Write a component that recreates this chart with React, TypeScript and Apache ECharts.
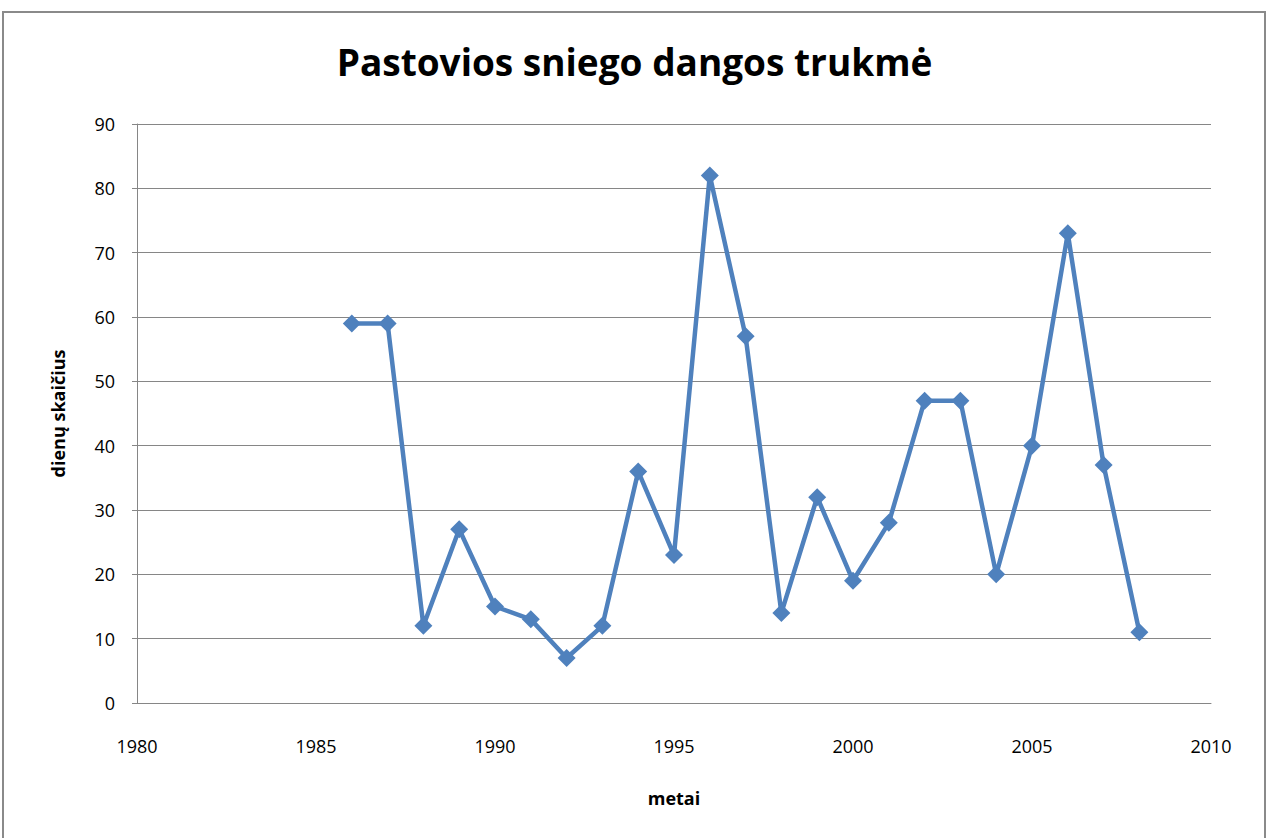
import React, { useEffect, useRef } from "react";
import * as echarts from "echarts";

const years = [1986, 1987, 1988, 1989, 1990, 1991, 1992, 1993, 1994, 1995, 1996, 1997, 1998, 1999, 2000, 2001, 2002, 2003, 2004, 2005, 2006, 2007, 2008];
const days = [59, 59, 12, 27, 15, 13, 7, 12, 36, 23, 82, 57, 14, 32, 19, 28, 47, 47, 20, 40, 73, 37, 11];
const titleText = "Pastovios sniego dangos trukmė";
const xName = "metai";
const yName = "dienų skaičius";

export default function App() {
  const ref = useRef<HTMLDivElement>(null);
  useEffect(() => {
    document.body.style.margin = "0";
    const chart = echarts.init(ref.current!, undefined, { renderer: "svg" });
    const font = "'Open Sans', 'Noto Sans', sans-serif";
    chart.setOption({
      animation: false,
      backgroundColor: "#fff",
      title: {
        text: titleText,
        left: "center",
        top: 38,
        textStyle: { fontFamily: font, fontWeight: "bold", fontSize: 37, color: "#000" },
      },
      graphic: [
        {
          type: "rect",
          shape: { x: 3, y: 12, width: 1262, height: 840 },
          style: { fill: "none", stroke: "#8a8a8a", lineWidth: 2 },
          silent: true,
        },
      ],
      grid: { left: 137, right: 58, top: 124, bottom: 135 },
      xAxis: {
        type: "value",
        min: 1980,
        max: 2010,
        interval: 5,
        name: xName,
        nameLocation: "middle",
        nameGap: 86,
        nameTextStyle: { fontFamily: font, fontWeight: "bold", fontSize: 18, color: "#000" },
        axisLine: { show: true, lineStyle: { color: "#868686", width: 1 } },
        axisTick: { show: false },
        splitLine: { show: false },
        axisLabel: { fontFamily: font, fontSize: 18, color: "#000", margin: 34, formatter: (v: number) => String(v) },
      },
      yAxis: {
        type: "value",
        min: 0,
        max: 90,
        interval: 10,
        name: yName,
        nameLocation: "middle",
        nameGap: 70,
        nameRotate: 90,
        nameTextStyle: { fontFamily: font, fontWeight: "bold", fontSize: 18, color: "#000" },
        axisLine: { show: true, lineStyle: { color: "#868686", width: 1 } },
        axisTick: { show: true, length: 5, inside: false, lineStyle: { color: "#868686" } },
        splitLine: { show: true, lineStyle: { color: "#868686", width: 1 } },
        axisLabel: { fontFamily: font, fontSize: 18, color: "#000", margin: 22 },
      },
      series: [
        {
          type: "line",
          data: years.map((y, i) => [y, days[i]]),
          symbol: "diamond",
          symbolSize: 18,
          lineStyle: { color: "#4F81BD", width: 4.5 },
          itemStyle: { color: "#4F81BD" },
        },
      ],
    });
    return () => chart.dispose();
  }, []);
  return <div ref={ref} style={{ width: 1269, height: 838 }} />;
}
